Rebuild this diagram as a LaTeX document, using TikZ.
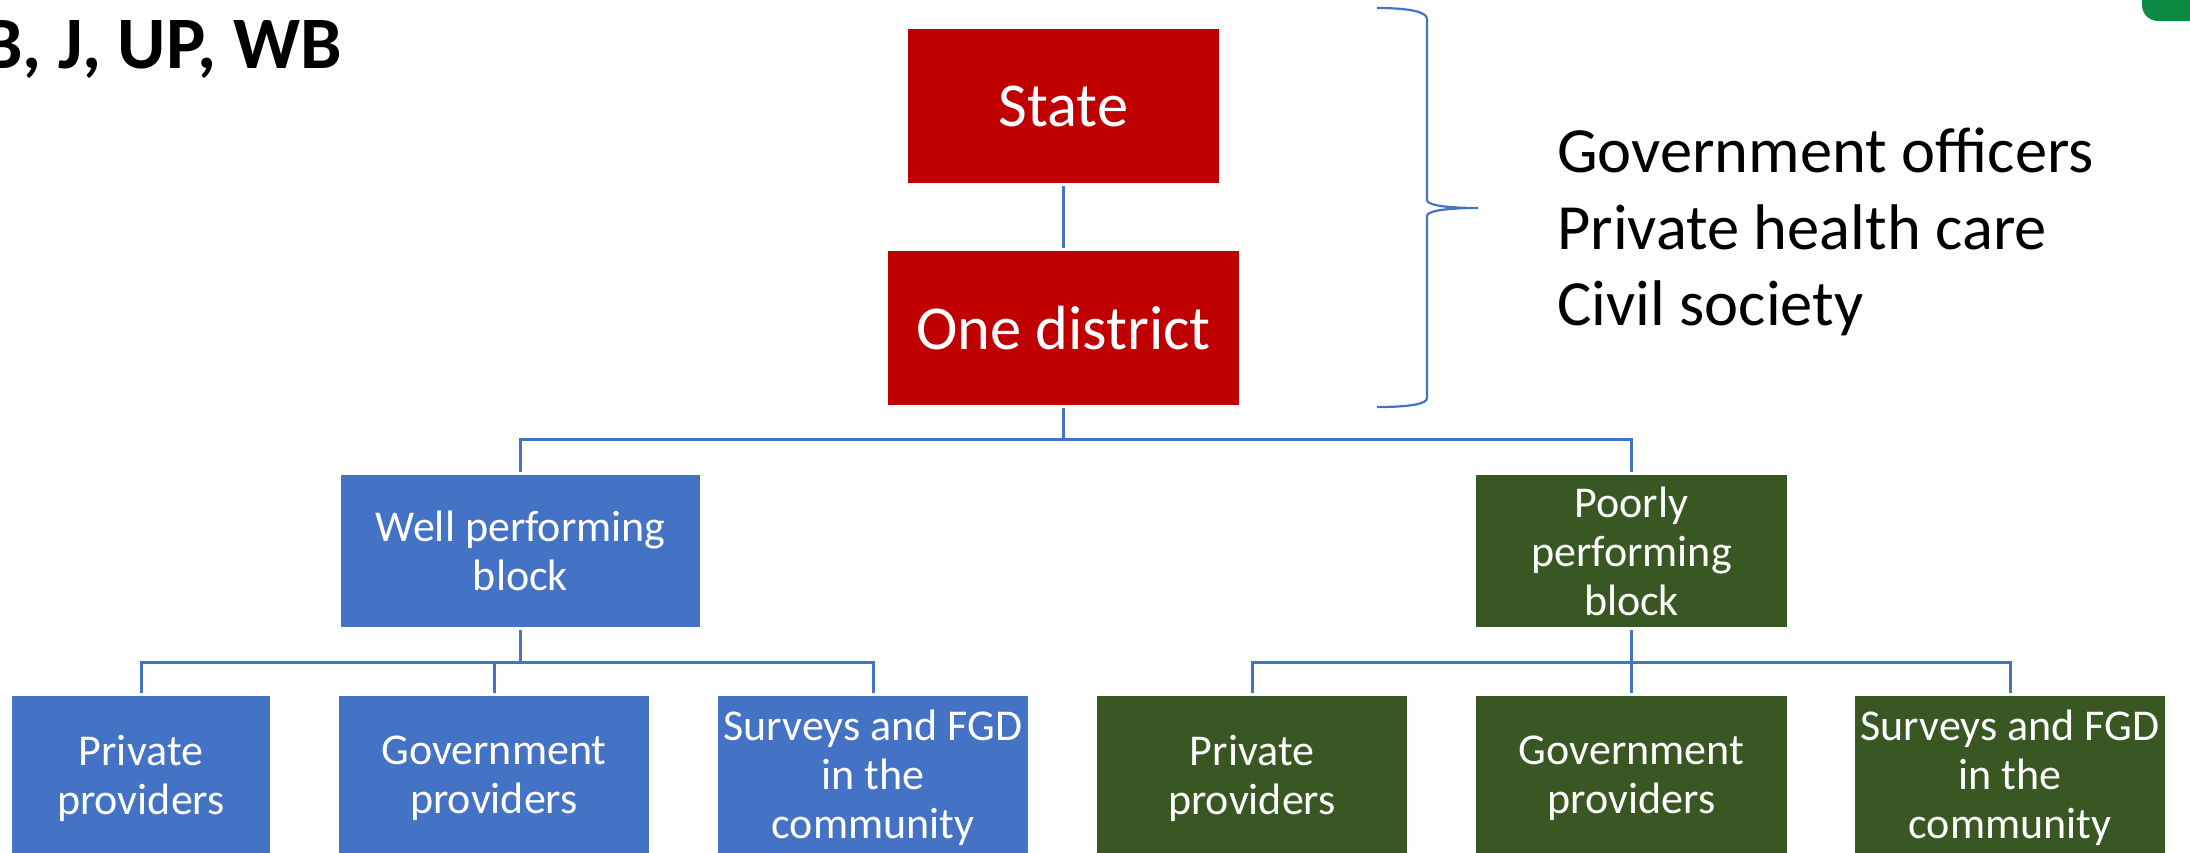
\documentclass[tikz,border=0pt]{standalone}
\usepackage{fontspec}
\setmainfont{Carlito}
\definecolor{cred}{HTML}{C00000}
\definecolor{cblue}{HTML}{4472C4}
\definecolor{cgreen}{HTML}{385723}
\definecolor{cline}{HTML}{4472C4}
\definecolor{ccorner}{HTML}{0A8A43}
\tikzset{
  box/.style={rectangle, inner sep=0pt, outer sep=0pt, text=white, align=center, minimum height=154pt},
  bigbox/.style={box, fill=cred, font=\fontsize{62.5}{75}\selectfont},
  bluebox/.style={box, fill=cblue, font=\fontsize{44}{49}\selectfont},
  greenbox/.style={box, fill=cgreen, font=\fontsize{44}{49}\selectfont},
  leafbox/.style={minimum height=164pt},
  conn/.style={draw=cline, line width=3pt},
  listtext/.style={inner sep=0pt, anchor=base west, font=\fontsize{64.5}{77}\selectfont}
}
\begin{document}
\begin{tikzpicture}[x=1pt,y=-1pt]
\useasboundingbox (0,0) rectangle (2190,852);
% corner mark
\fill[ccorner, rounded corners=16pt] (2142,-30) rectangle (2220,21);
% title
\node[inner sep=0pt, anchor=base east, font=\fontsize{74}{86}\selectfont\bfseries] (title) at (342,68) {B, J, UP, WB};
% top boxes
\node[bigbox, minimum width=311pt] (state) at (1063.5,106) {State};
\node[bigbox, minimum width=351pt] (dist) at (1063.5,328) {One district};
% blocks
\node[bluebox, minimum width=359pt, minimum height=152pt] (well) at (520.5,551) {Well performing\\block};
\node[greenbox, minimum width=311pt, minimum height=152pt] (poor) at (1631.5,551) {Poorly\\performing\\block};
% leaves
\node[bluebox, leafbox, minimum width=258pt] (wp) at (141,778) {Private\\providers};
\node[bluebox, leafbox, minimum width=310pt] (wg) at (494,778) {Government\\providers};
\node[bluebox, leafbox, minimum width=310pt] (ws) at (873,778) {Surveys and FGD\\in the\\community};
\node[greenbox, leafbox, minimum width=310pt] (pp) at (1252,778) {Private\\providers};
\node[greenbox, leafbox, minimum width=311pt] (pg) at (1631.5,778) {Government\\providers};
\node[greenbox, leafbox, minimum width=310pt] (ps) at (2010,778) {Surveys and FGD\\in the\\community};
% connectors
\coordinate (b1) at (1063.5,439);
\coordinate (b2) at (520.5,662);
\coordinate (b3) at (1631.5,662);
\draw[conn, shorten <=3pt, shorten >=3pt] (state.south) -- (dist.north);
\draw[conn, shorten <=3pt] (dist.south) -- (b1);
\draw[conn, shorten <=3pt, shorten >=3pt] (well.north) |- (b1) -| (poor.north);
\draw[conn, shorten <=3pt] (well.south) -- (b2);
\draw[conn, shorten <=3pt, shorten >=3pt] (wp.north) |- (b2) -| (ws.north);
\draw[conn, shorten >=3pt] (wg.north |- b2) -- (wg.north);
\draw[conn, shorten <=3pt, shorten >=3pt] (poor.south) -- (pg.north);
\draw[conn, shorten <=3pt, shorten >=3pt] (pp.north) |- (b3) -| (ps.north);
% brace
\draw[draw=cline, line width=2.2pt] (1377,8) .. controls (1410,8) and (1427,12) .. (1427,19) -- (1427,200) .. controls (1427,205) and (1445,208) .. (1478,208) .. controls (1445,208) and (1427,211) .. (1427,216) -- (1427,398) .. controls (1427,404) and (1410,407) .. (1377,407);
% list
\node[listtext] (l1) at (1557,172) {Government officers};
\node[listtext] (l2) at (1557,249) {Private health care};
\node[listtext] (l3) at (1557,325) {Civil society};
\end{tikzpicture}
\end{document}
